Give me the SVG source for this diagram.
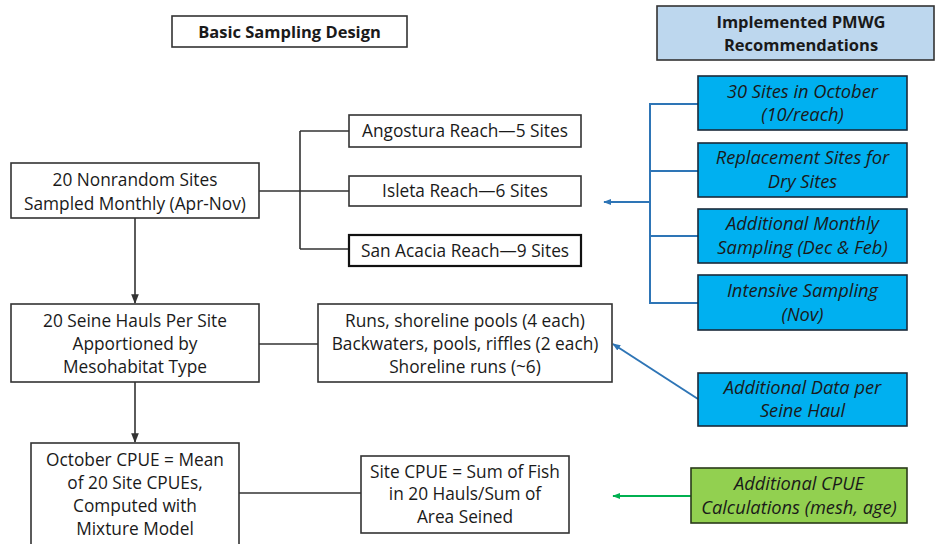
<svg xmlns="http://www.w3.org/2000/svg" width="936" height="544" viewBox="0 0 936 544">
<defs>
<style>
.box{fill:#fff;stroke:#333;stroke-width:1.6}
.blue{fill:#00b0f0;stroke:#1a2a3a;stroke-width:1.6}
.green{fill:#92d050;stroke:#2a3a1a;stroke-width:1.6}
.hdr{fill:#bdd7ee;stroke:#333;stroke-width:1.6}
text{font-family:"Open Sans","Liberation Sans",Arial,sans-serif;font-size:17.3px;fill:#1a1a1a;text-anchor:middle}
.b{font-weight:bold;font-size:16.5px}
.i{font-style:italic;font-size:18.3px}
.ln{fill:none;stroke:#333;stroke-width:1.6}
.bl{fill:none;stroke:#2e75b6;stroke-width:2}
.gl{fill:none;stroke:#00b050;stroke-width:2}
</style>
<marker id="ak" viewBox="0 0 10 10" refX="9" refY="5" markerWidth="6" markerHeight="6" orient="auto"><path d="M0,1 L10,5 L0,9 z" fill="#333"/></marker>
<marker id="ab" viewBox="0 0 10 10" refX="9" refY="5" markerWidth="4" markerHeight="4" orient="auto"><path d="M0,1 L10,5 L0,9 z" fill="#2e75b6"/></marker>
<marker id="ag" viewBox="0 0 10 10" refX="9" refY="5" markerWidth="4" markerHeight="4" orient="auto"><path d="M0,1 L10,5 L0,9 z" fill="#00b050"/></marker>
</defs>
<rect width="936" height="544" fill="#fff"/>
<g id="connectors">
<path class="ln" d="M259,191 H349 M300,131 V249 M300,131 H349 M300,249 H349"/>
<path class="ln" d="M135,218 V303" marker-end="url(#ak)"/>
<path class="ln" d="M259,344 H318"/>
<path class="ln" d="M135,382 V442" marker-end="url(#ak)"/>
<path class="ln" d="M239,493 H361"/>
<path class="bl" d="M698,104 H650 V303 H698 M650,171 H698 M650,236 H698"/>
<path class="bl" d="M650,202 H604" marker-end="url(#ab)"/>
<path class="bl" d="M698,399 L613,344" marker-end="url(#ab)"/>
<path class="gl" d="M691,496 H613" marker-end="url(#ag)"/>
</g>
<g id="basic"><rect class="box" x="172" y="16" width="235" height="31"/><text class="b" x="289.5" y="38">Basic Sampling Design</text></g>
<g id="pmwg"><rect class="hdr" x="657" y="6" width="277" height="54"/><text class="b" x="801" y="28">Implemented PMWG</text><text class="b" x="801" y="51">Recommendations</text></g>
<g id="nonrandom"><rect class="box" x="11" y="163" width="248" height="55"/><text x="135" y="186">20 Nonrandom Sites</text><text x="135" y="210">Sampled Monthly (Apr-Nov)</text></g>
<g id="angostura"><rect class="box" x="349" y="115" width="232" height="32"/><text x="465" y="137">Angostura Reach—5 Sites</text></g>
<g id="isleta"><rect class="box" x="349" y="176" width="232" height="30"/><text x="465" y="197">Isleta Reach—6 Sites</text></g>
<g id="sanacacia"><rect class="box" x="349" y="235" width="232" height="31" style="stroke-width:2.2;stroke:#111"/><text x="465" y="257">San Acacia Reach—9 Sites</text></g>
<g id="seine"><rect class="box" x="11" y="304" width="248" height="78"/><text x="135" y="327">20 Seine Hauls Per Site</text><text x="135" y="350">Apportioned by</text><text x="135" y="373">Mesohabitat Type</text></g>
<g id="runs"><rect class="box" x="318" y="304" width="294" height="78"/><text x="465" y="327">Runs, shoreline pools (4 each)</text><text x="465" y="350">Backwaters, pools, riffles (2 each)</text><text x="465" y="373">Shoreline runs (~6)</text></g>
<g id="october"><rect class="box" x="31" y="443" width="208" height="105"/><text x="135" y="466">October CPUE = Mean</text><text x="135" y="489">of 20 Site CPUEs,</text><text x="135" y="512">Computed with</text><text x="135" y="535">Mixture Model</text></g>
<g id="sitecpue"><rect class="box" x="361" y="456" width="208" height="77"/><text x="465" y="478">Site CPUE = Sum of Fish</text><text x="465" y="500">in 20 Hauls/Sum of</text><text x="465" y="523">Area Seined</text></g>
<g id="rec1"><rect class="blue" x="698" y="76" width="209" height="54"/><text class="i" x="802.5" y="98">30 Sites in October</text><text class="i" x="802.5" y="121">(10/reach)</text></g>
<g id="rec2"><rect class="blue" x="698" y="143" width="209" height="54"/><text class="i" x="802.5" y="164">Replacement Sites for</text><text class="i" x="802.5" y="188">Dry Sites</text></g>
<g id="rec3"><rect class="blue" x="698" y="209" width="209" height="54"/><text class="i" x="802.5" y="230">Additional Monthly</text><text class="i" x="802.5" y="254">Sampling (Dec &amp; Feb)</text></g>
<g id="rec4"><rect class="blue" x="698" y="275" width="209" height="55"/><text class="i" x="802.5" y="297">Intensive Sampling</text><text class="i" x="802.5" y="321">(Nov)</text></g>
<g id="rec5"><rect class="blue" x="698" y="373" width="209" height="53"/><text class="i" x="802.5" y="394">Additional Data per</text><text class="i" x="802.5" y="417">Seine Haul</text></g>
<g id="rec6"><rect class="green" x="691" y="468" width="216" height="55"/><text class="i" x="799" y="490">Additional CPUE</text><text class="i" x="799" y="514">Calculations (mesh, age)</text></g>
</svg>
